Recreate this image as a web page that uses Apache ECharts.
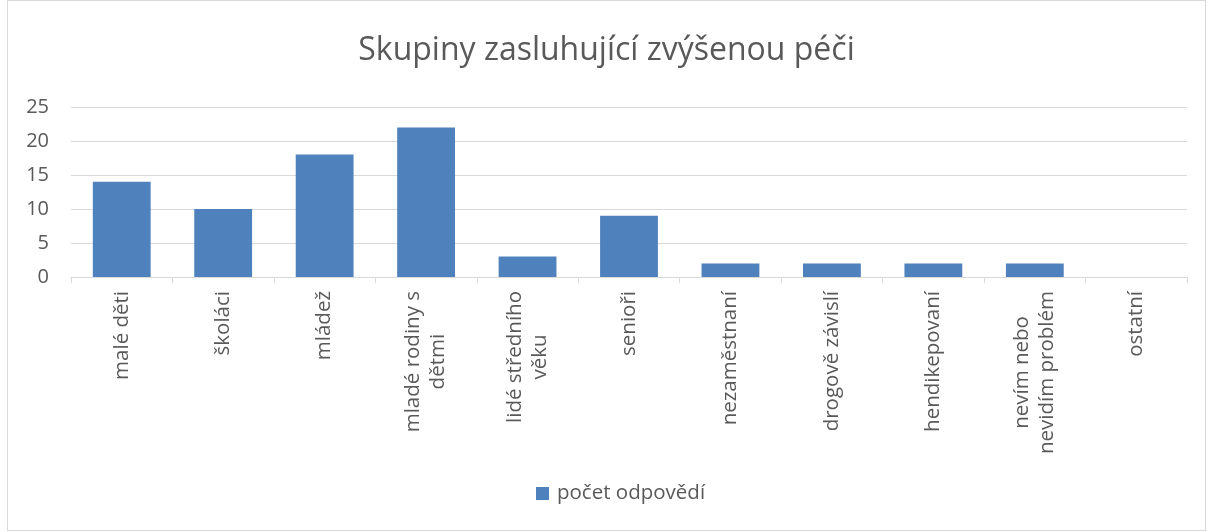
<!DOCTYPE html>
<html>
<head>
<meta charset="utf-8">
<script src="https://cdn.jsdelivr.net/npm/echarts@6/dist/echarts.min.js"></script>
<style>
  html, body { margin: 0; padding: 0; background: #fff; }
  #frame { position: absolute; left: 7px; top: 0; width: 1197px; height: 529px; border: 1px solid #d9d9d9; }
  #main { position: absolute; left: 0; top: 0; width: 1213px; height: 532px; }
</style>
</head>
<body>
<div id="frame"></div>
<div id="main"></div>
<script>
// data
var categories = [
  'malé děti',
  'školáci',
  'mládež',
  'mladé rodiny s\ndětmi',
  'lidé středního\nvěku',
  'senioři',
  'nezaměstnaní',
  'drogově závislí',
  'hendikepovaní',
  'nevím nebo\nnevidím problém',
  'ostatní'
]
var counts = [14, 10, 18, 22, 3, 9, 2, 2, 2, 2, 0]
var seriesName = 'počet odpovědí'
var chartTitle = 'Skupiny zasluhující zvýšenou péči'

var FONT = '"Open Sans", "Noto Sans", sans-serif'
var TEXT = '#595959'

var chart = echarts.init(document.getElementById('main'))
var option = {
  animation: false,
  title: {
    text: chartTitle,
    left: 'center',
    top: 30,
    textStyle: { fontFamily: FONT, fontSize: 32, fontWeight: 'normal', color: TEXT }
  },
  legend: {
    bottom: 23,
    left: 531,
    itemWidth: 13,
    itemHeight: 13,
    itemGap: 8,
    icon: 'rect',
    textStyle: { fontFamily: FONT, fontSize: 20.5, color: TEXT, padding: [0, 0, 0, 3] }
  },
  grid: { left: 71, right: 26, top: 107, bottom: 255, containLabel: false },
  xAxis: {
    type: 'category',
    data: categories,
    axisLine: { lineStyle: { color: '#d9d9d9' } },
    axisTick: { show: true, length: 6, lineStyle: { color: '#d9d9d9' } },
    axisLabel: {
      rotate: 90,
      margin: 14,
      interval: 0,
      fontFamily: FONT,
      fontSize: 20.5,
      color: TEXT,
      formatter: function (v) {
        return v.split('\n').map(function (s) { return '{c|' + s + '}' }).join('\n')
      },
      rich: {
        c: { align: 'center', fontFamily: FONT, fontSize: 20.5, color: TEXT, lineHeight: 25 }
      }
    }
  },
  yAxis: {
    type: 'value',
    min: 0,
    max: 25,
    interval: 5,
    axisLine: { show: false },
    axisTick: { show: false },
    splitLine: { lineStyle: { color: '#d9d9d9' } },
    axisLabel: { margin: 22, fontFamily: FONT, fontSize: 20, color: TEXT }
  },
  series: [
    {
      name: seriesName,
      type: 'bar',
      data: counts,
      barWidth: '57%',
      itemStyle: { color: '#4f81bd' }
    }
  ]
}
chart.setOption(option)
</script>
</body>
</html>
